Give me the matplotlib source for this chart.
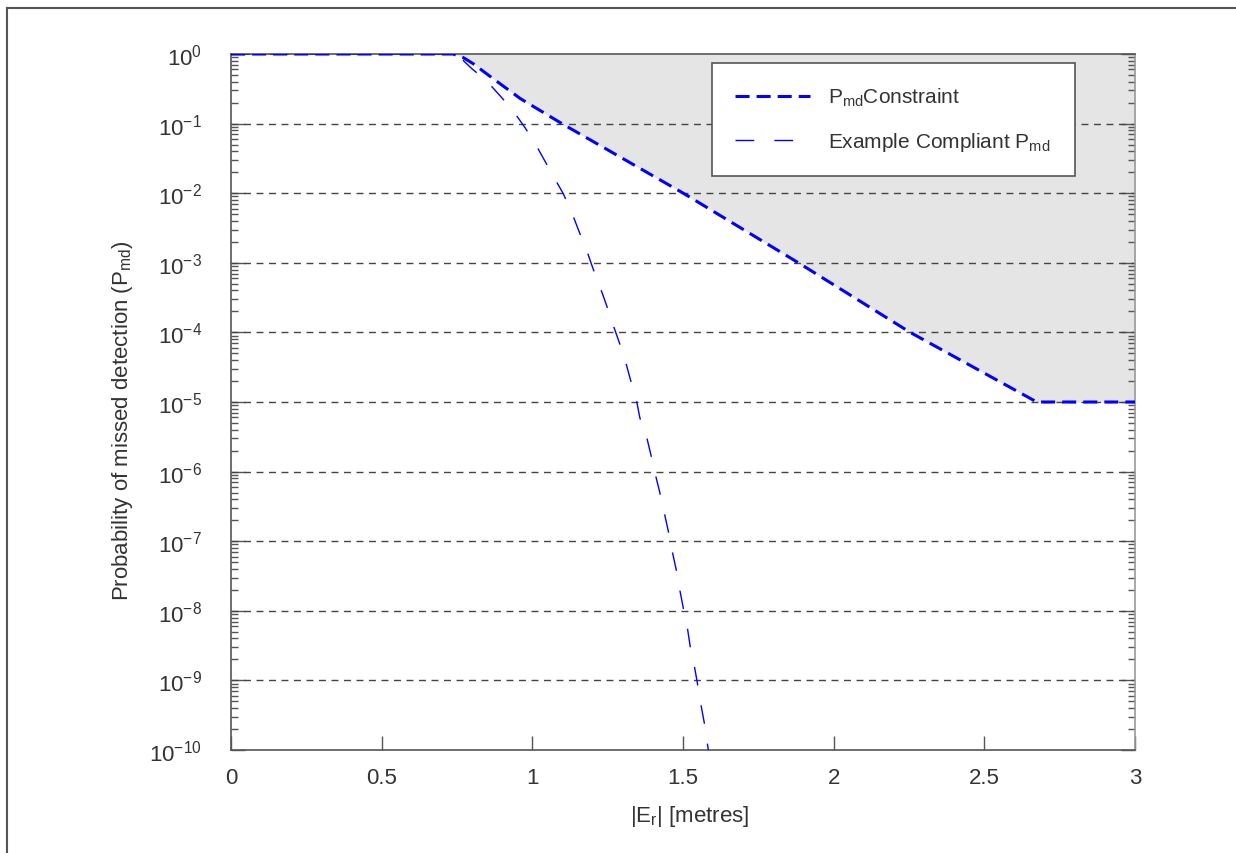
import matplotlib
matplotlib.use("Agg")
import matplotlib.pyplot as plt
import numpy as np
from matplotlib.lines import Line2D
from matplotlib.ticker import LogLocator, FixedLocator

plt.rcParams['font.family'] = ['Liberation Sans', 'DejaVu Sans']
plt.rcParams['mathtext.fontset'] = 'custom'
plt.rcParams['mathtext.rm'] = 'Liberation Sans'
plt.rcParams['mathtext.it'] = 'Liberation Sans'
plt.rcParams['mathtext.default'] = 'regular'

# Constraint curve (x in metres, exponent of 10)
constraint_x = [0.0, 0.737, 0.77, 0.804, 0.85, 0.90, 0.96, 1.098, 1.501, 1.883, 2.254, 2.674, 3.0]
constraint_exp = [0.0, 0.0, -0.05, -0.14, -0.29, -0.45, -0.64, -1.0, -2.0, -3.0, -4.0, -5.0, -5.0]

# Example compliant curve
example_x = [0.0, 0.73, 0.77, 0.799, 0.848, 0.893, 0.937, 0.976, 1.011, 1.042, 1.073, 1.103,
             1.131, 1.156, 1.180, 1.202, 1.225, 1.247, 1.267, 1.289, 1.308, 1.325, 1.343,
             1.357, 1.377, 1.393, 1.407, 1.423, 1.451, 1.464, 1.477, 1.488, 1.501, 1.514,
             1.527, 1.538, 1.549, 1.559, 1.572, 1.581, 1.584]
example_exp = [0.0, 0.0, -0.09, -0.21, -0.385, -0.60, -0.82, -1.06, -1.30, -1.54, -1.78, -2.01,
               -2.28, -2.56, -2.82, -3.09, -3.35, -3.62, -3.88, -4.15, -4.40, -4.67, -4.92,
               -5.23, -5.46, -5.75, -6.02, -6.30, -6.85, -7.14, -7.40, -7.67, -7.96, -8.23,
               -8.60, -8.80, -9.07, -9.34, -9.64, -9.91, -10.0]

grid_levels = [1e-1, 1e-2, 1e-3, 1e-4, 1e-5, 1e-6, 1e-7, 1e-8, 1e-9]
x_ticks = [0, 0.5, 1, 1.5, 2, 2.5, 3]
x_tick_labels = ['0', '0.5', '1', '1.5', '2', '2.5', '3']

constraint_y = 10.0 ** np.array(constraint_exp)
example_y = 10.0 ** np.array(example_exp)

W, H = 1236, 854
fig = plt.figure(figsize=(W/100, H/100), dpi=100)
ax = fig.add_axes([231/W, 1-751/H, (1135-231)/W, (751-55)/H])

txt = '#333333'
spine = '#555555'

ax.fill_between(constraint_x, constraint_y, 1.0, color='#e5e5e5', linewidth=0, zorder=1)

for g in grid_levels:
    ax.axhline(g, color='#444444', linestyle=(0, (5, 4)), linewidth=1.0, zorder=2)

ax.plot(constraint_x, constraint_y, color='#0000ff', linestyle=(0, (4.6, 2.3)), linewidth=2.2,
        label=r'P$_{\mathregular{md}}$Constraint', zorder=4)
ax.plot(example_x, example_y, color='#0000ff', linestyle=(0, (13.5, 14.5)), linewidth=1.0,
        label=r'Example Compliant P$_{\mathregular{md}}$', zorder=3)

ax.set_yscale('log')
ax.set_xlim(0, 3)
ax.set_ylim(1e-10, 1)
ax.xaxis.set_major_locator(FixedLocator(x_ticks))
ax.set_xticklabels(x_tick_labels)
ax.yaxis.set_major_locator(LogLocator(base=10, numticks=20))
ax.yaxis.set_minor_locator(LogLocator(base=10, subs=np.arange(2, 10), numticks=20))

ax.tick_params(axis='both', which='major', direction='in', length=10, width=1, color=spine,
               labelsize=16, labelcolor=txt, right=True, top=False)
ax.tick_params(axis='x', which='major', pad=12)
ax.tick_params(axis='y', which='major', pad=21)
ax.tick_params(axis='y', which='minor', direction='in', length=5, width=1, color=spine, right=True)
ax.tick_params(axis='x', which='minor', bottom=False, top=False)

for s in ax.spines.values():
    s.set_color(spine)
    s.set_linewidth(1.2)
ax.spines['right'].set_color('#999999')

ax.set_xlabel(r'|E$_{\mathregular{r}}$| [metres]', fontsize=16, color=txt)
ax.set_ylabel(r'Probability of missed detection (P$_{\mathregular{md}}$)', fontsize=16, color=txt)
ax.xaxis.set_label_coords((690-231)/904, (751-804)/696)
ax.yaxis.set_label_coords((135-231)/904, (751-421)/696)

leg = ax.legend(loc='upper left', bbox_to_anchor=(712/W, 1-173/H, 363/W, 109/H),
                bbox_transform=fig.transFigure, mode='expand',
                fontsize=15, frameon=True, fancybox=False, edgecolor='#555555', framealpha=1.0,
                handlelength=3.6, borderpad=1.1, labelspacing=1.05, handletextpad=0.85, borderaxespad=0)
leg.get_frame().set_linewidth(1.2)
for t in leg.get_texts():
    t.set_color(txt)

fig.add_artist(Line2D([7/W, 1.0], [1-9/H, 1-9/H], transform=fig.transFigure, color='#555555', linewidth=1.5))
fig.add_artist(Line2D([7/W, 7/W], [0, 1-9/H], transform=fig.transFigure, color='#555555', linewidth=1.5))

fig.savefig('out.png', dpi=100)
